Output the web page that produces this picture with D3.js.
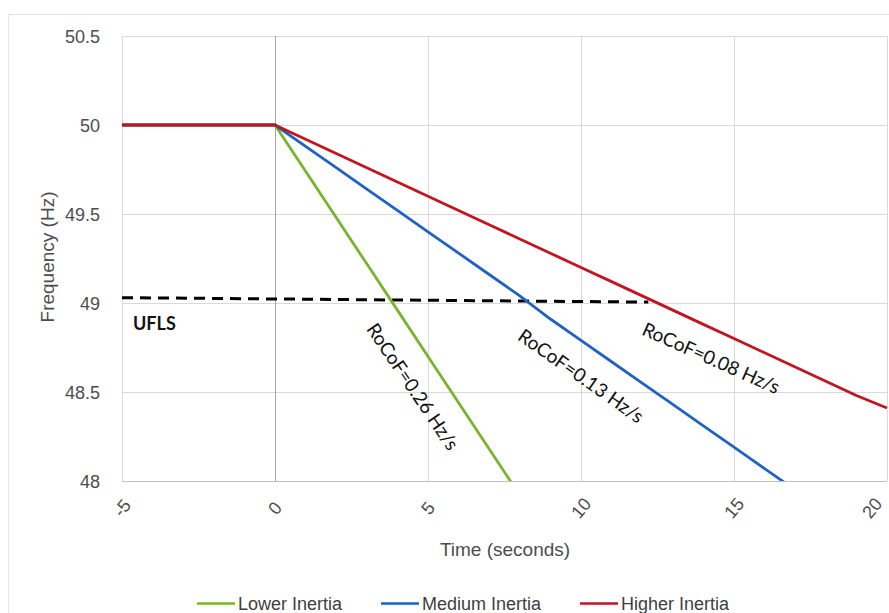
<!DOCTYPE html>
<html>
<head>
<meta charset="utf-8">
<script src="https://cdn.jsdelivr.net/npm/d3@7"></script>
<style>
  html, body { margin: 0; padding: 0; background: #ffffff; }
  svg { display: block; }
</style>
</head>
<body>
<svg id="chart" width="889" height="613"></svg>
<script>
// ---------- DATA ----------
const xTicks = [-5, 0, 5, 10, 15, 20];
const xTickLabels = ["-5", "0", "5", "10", "15", "20"];
const yTicks = [48, 48.5, 49, 49.5, 50, 50.5];
const yTickLabels = ["48", "48.5", "49", "49.5", "50", "50.5"];

const lowerTime = [-5, 0, 1, 2, 3, 4, 5, 6, 7, 8];
const lowerFreq = [50, 50, 49.74, 49.48, 49.22, 48.96, 48.70, 48.44, 48.18, 47.92];

const mediumTime = [-5, 0, 1, 2, 3, 4, 5, 6, 7, 8, 9, 10, 11, 12, 13, 14, 15, 16, 17];
const mediumFreq = [50, 50, 49.88, 49.76, 49.64, 49.52, 49.40, 49.28, 49.16, 49.04, 48.91, 48.79, 48.67, 48.55, 48.43, 48.31, 48.19, 48.07, 47.95];

const higherTime = [-5, 0, 1, 2, 3, 4, 5, 6, 7, 8, 9, 10, 11, 12, 13, 14, 15, 16, 17, 18, 19, 20];
const higherFreq = [50, 50, 49.92, 49.84, 49.76, 49.68, 49.60, 49.52, 49.44, 49.36, 49.28, 49.20, 49.12, 49.04, 48.96, 48.88, 48.80, 48.72, 48.64, 48.56, 48.48, 48.41];

const uflsTime = [-5, 12.2];
const uflsFreq = [49.03, 49.005];

const seriesNames = ["Lower Inertia", "Medium Inertia", "Higher Inertia"];
const annotations = [
  { text: "RoCoF=0.26 Hz/s", t: 4.5, f: 48.53, angle: 56 },
  { text: "RoCoF=0.13 Hz/s", t: 10.0, f: 48.59, angle: 35 },
  { text: "RoCoF=0.08 Hz/s", t: 14.25, f: 48.69, angle: 24 }
];

// ---------- LAYOUT ----------
const svg = d3.select("#chart");
const L = 122, R = 887, T = 36, B = 481;
const x = d3.scaleLinear().domain([-5, 20]).range([L, R]);
const y = d3.scaleLinear().domain([48, 50.5]).range([B, T]);

const colors = ["#79b52c", "#1f62c4", "#c1161f"];
const axisFont = "'Liberation Sans', Arial, sans-serif";
const annoFont = "Lato, 'Open Sans', sans-serif";

// outer chart border
svg.append("rect").attr("x", 8.5).attr("y", 14.5).attr("width", 900).attr("height", 640)
  .attr("fill", "none").attr("stroke", "#e3e3e3").attr("stroke-width", 1);

// gridlines
const grid = svg.append("g");
grid.selectAll("line.h").data(yTicks.filter(v => v > 48)).join("line")
  .attr("x1", L).attr("x2", R)
  .attr("y1", d => Math.round(y(d)) + 0.5).attr("y2", d => Math.round(y(d)) + 0.5)
  .attr("stroke", "#d9d9d9").attr("stroke-width", 1);
grid.selectAll("line.v").data(xTicks.filter(v => v !== 0)).join("line")
  .attr("x1", d => Math.round(x(d)) + 0.5).attr("x2", d => Math.round(x(d)) + 0.5)
  .attr("y1", T).attr("y2", B)
  .attr("stroke", "#d9d9d9").attr("stroke-width", 1);
// vertical axis at 0
svg.append("line")
  .attr("x1", Math.round(x(0)) + 0.5).attr("x2", Math.round(x(0)) + 0.5)
  .attr("y1", T).attr("y2", B)
  .attr("stroke", "#a6a6a6").attr("stroke-width", 1);
// bottom axis line
svg.append("line").attr("x1", L).attr("x2", R)
  .attr("y1", Math.round(y(48)) + 0.5).attr("y2", Math.round(y(48)) + 0.5)
  .attr("stroke", "#bfbfbf").attr("stroke-width", 1);

// y axis labels (via d3 axis, domain/ticks hidden)
const yAxis = d3.axisLeft(y).tickValues(yTicks).tickFormat((d, i) => yTickLabels[i]).tickSize(0).tickPadding(0);
const yG = svg.append("g").attr("transform", "translate(100,0)").call(yAxis);
yG.select(".domain").remove();
yG.selectAll("text").attr("font-family", axisFont).attr("font-size", 18).attr("fill", "#4d4d4d")
  .attr("dy", "0.36em");

// x axis labels (rotated)
const xAxis = d3.axisBottom(x).tickValues(xTicks).tickFormat((d, i) => xTickLabels[i]).tickSize(0).tickPadding(0);
const xG = svg.append("g").call(xAxis);
xG.select(".domain").remove();
xG.selectAll(".tick").attr("transform", d => `translate(${Math.min(x(d), 872)},508)`);
xG.selectAll("text").attr("font-family", axisFont).attr("font-size", 18).attr("fill", "#4d4d4d")
  .attr("text-anchor", "middle").attr("y", 0).attr("dy", "0.35em")
  .attr("transform", "rotate(-50)");

// axis titles
svg.append("text").attr("x", 505).attr("y", 556).attr("text-anchor", "middle")
  .attr("font-family", axisFont).attr("font-size", 19).attr("fill", "#4d4d4d").text("Time (seconds)");
svg.append("text").attr("transform", "translate(54,257) rotate(-90)").attr("text-anchor", "middle")
  .attr("font-family", axisFont).attr("font-size", 19).attr("fill", "#4d4d4d").text("Frequency (Hz)");

// clip
svg.append("clipPath").attr("id", "plotclip").append("rect")
  .attr("x", L).attr("y", T - 2).attr("width", R - L + 2).attr("height", B - T + 2);

const line = d3.line().x(d => x(d[0])).y(d => y(d[1]));
const plot = svg.append("g").attr("clip-path", "url(#plotclip)");

// UFLS dashed line
plot.append("path").datum(uflsTime.map((t, i) => [t, uflsFreq[i]]))
  .attr("d", line).attr("fill", "none").attr("stroke", "#000").attr("stroke-width", 3)
  .attr("stroke-dasharray", "11,7");

const series = [
  [lowerTime, lowerFreq],
  [mediumTime, mediumFreq],
  [higherTime, higherFreq]
];
series.forEach((s, i) => {
  plot.append("path").datum(s[0].map((t, j) => [t, s[1][j]]))
    .attr("d", line).attr("fill", "none").attr("stroke", colors[i])
    .attr("stroke-width", 2.8).attr("stroke-linejoin", "round");
});

// UFLS label
svg.append("text").attr("x", 133).attr("y", 330)
  .attr("font-family", annoFont).attr("font-weight", "bold").attr("font-size", 18)
  .attr("fill", "#111").text("UFLS");

// RoCoF annotations
annotations.forEach(a => {
  svg.append("text")
    .attr("transform", `translate(${x(a.t)},${y(a.f)}) rotate(${a.angle})`)
    .attr("text-anchor", "middle").attr("dy", "0.35em")
    .attr("font-family", annoFont).attr("font-size", 19).attr("fill", "#111")
    .text(a.text);
});

// legend
const legX = [197, 381, 580];
const legend = svg.append("g");
seriesNames.forEach((n, i) => {
  legend.append("line").attr("x1", legX[i]).attr("x2", legX[i] + 38)
    .attr("y1", 603.5).attr("y2", 603.5).attr("stroke", colors[i]).attr("stroke-width", 2.6);
  legend.append("text").attr("x", legX[i] + 41).attr("y", 610)
    .attr("font-family", axisFont).attr("font-size", 18).attr("fill", "#404040").text(n);
});
</script>
</body>
</html>
